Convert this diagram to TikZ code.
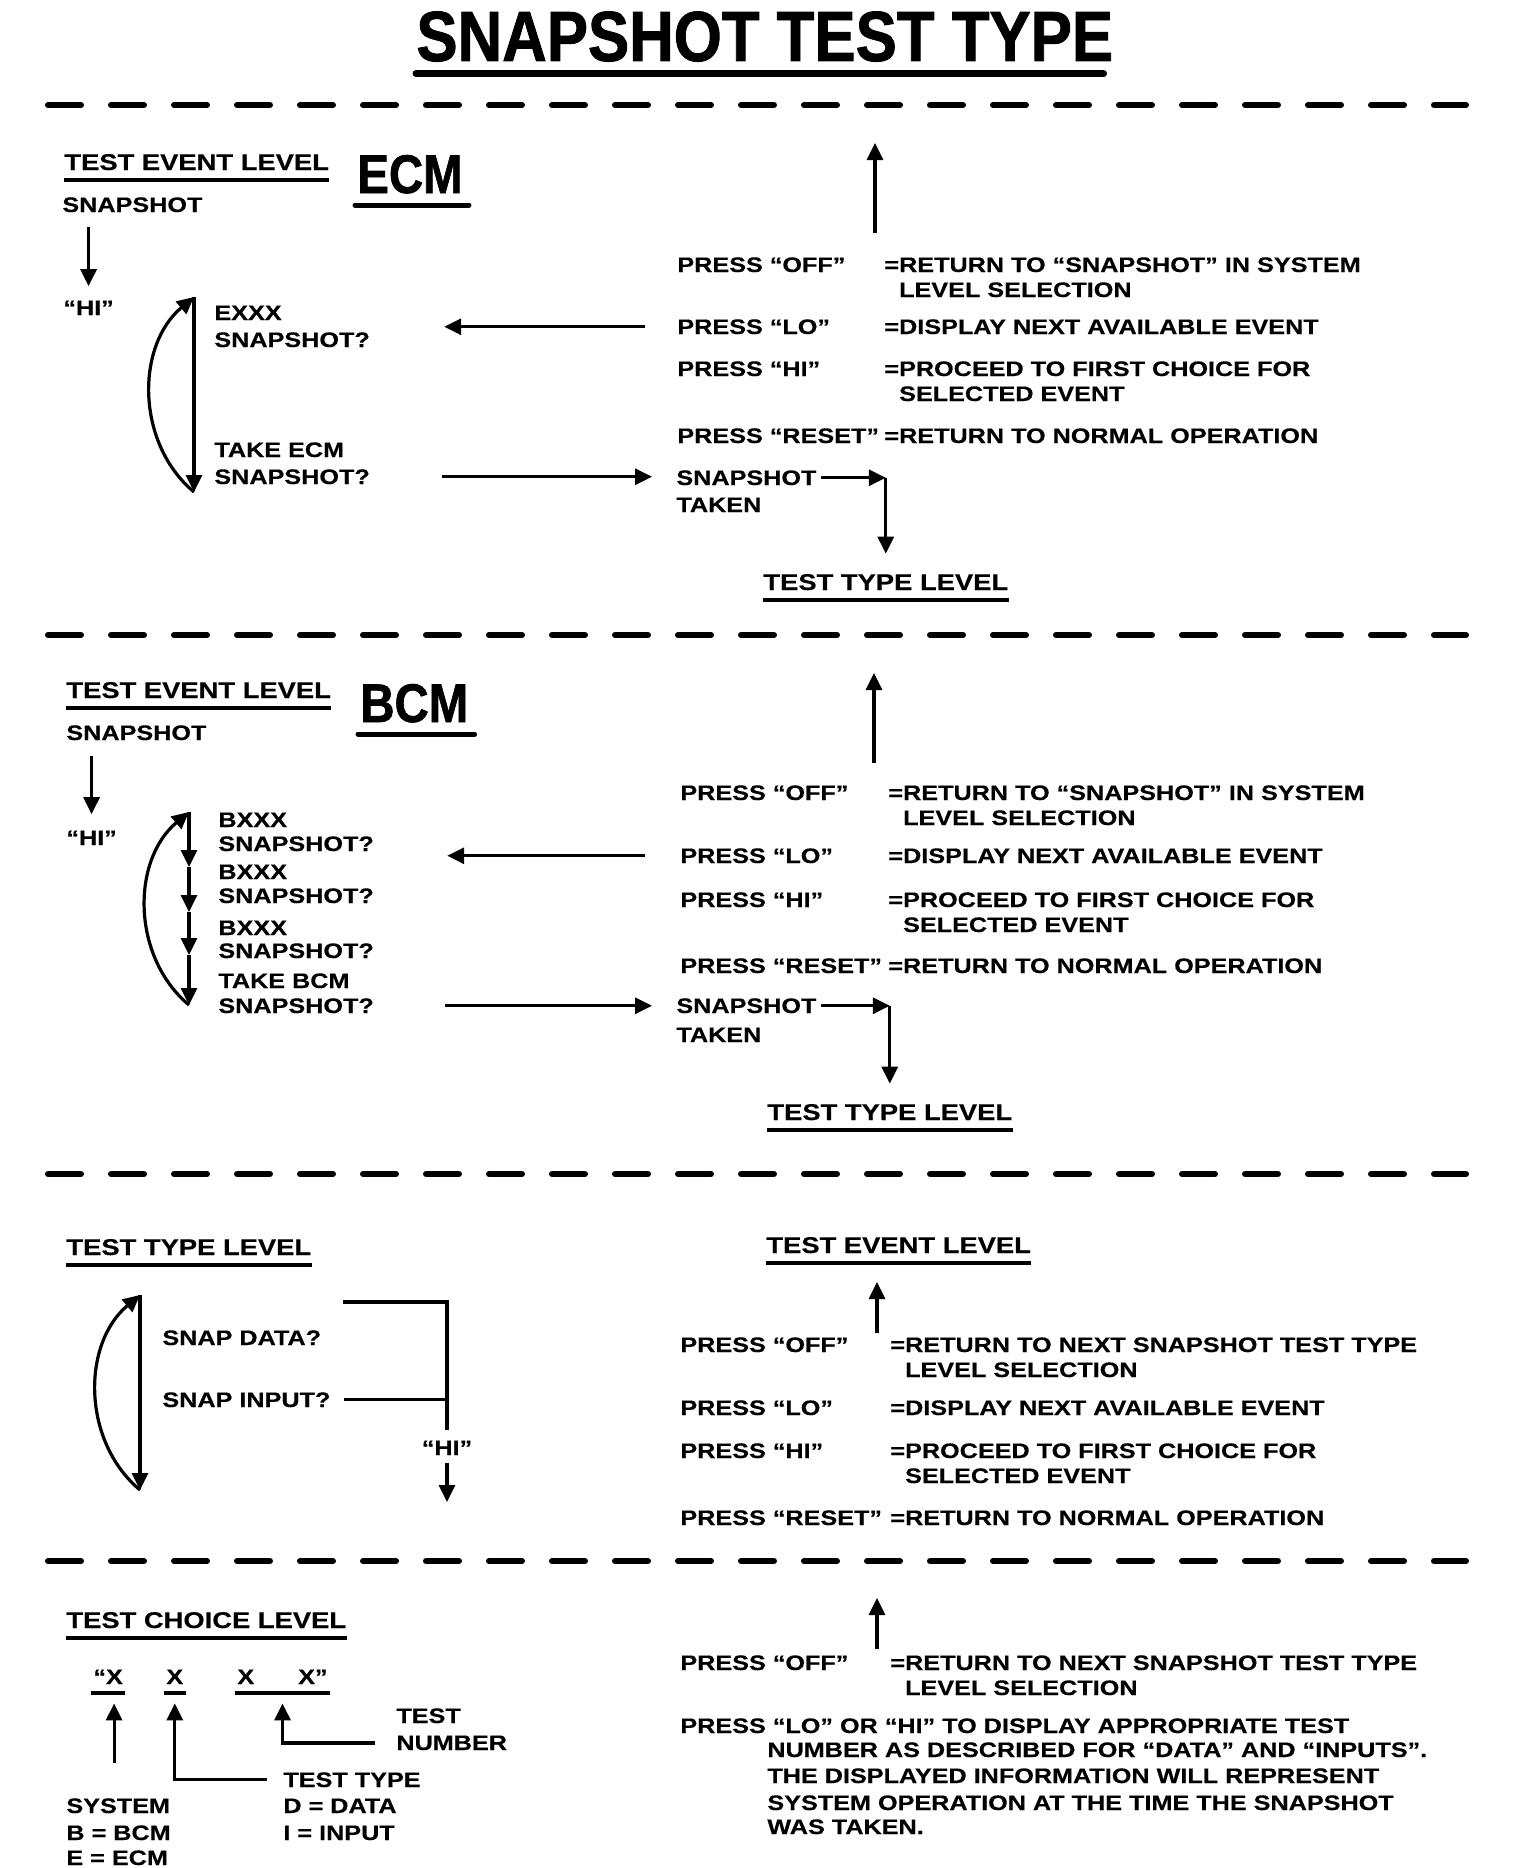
\documentclass[tikz,border=0pt]{standalone}
\usepackage{fontspec}
\newfontfamily\bodyfont{Liberation Sans Bold}[FakeStretch=1.2, FakeBold=0.4]
\newfontfamily\titlefont{Liberation Sans Bold}[FakeStretch=0.87, FakeBold=1.2]
\usepackage{tikz}
\usetikzlibrary{arrows.meta}

\begin{document}
\begin{tikzpicture}[x=0.5pt, y=-0.5pt,
    txt/.style={inner sep=0pt, anchor=base west, align=left,
      font=\bodyfont\fontsize{10.5}{12.5}\selectfont},
    head/.style={txt, font=\bodyfont\fontsize{11.4}{13}\selectfont},
    big/.style={inner sep=0pt, anchor=base west},
    arr/.style={line width=1.6pt, -{Triangle[length=8.5pt, width=8pt]}},
    bar/.style={line width=1.6pt},
    uline/.style={line width=2pt},
    sep/.style={line width=3pt, line cap=round, dash pattern=on 16.5pt off 15pt}]
  \useasboundingbox (0,0) rectangle (1536,1868);
  \fill[white] (0,0) rectangle (1536,1868);

  % title and separators
  \node[big, font=\titlefont\fontsize{35.5}{40}\selectfont] (title) at (416,61) {SNAPSHOT TEST TYPE};
  \draw[line width=3.5pt, line cap=round] ([yshift=-6.3pt]title.base west) -- ([yshift=-6.3pt, xshift=-5pt]title.base east);
  \foreach \y in {105,635,1174,1561}
    \draw[sep] (48,\y) -- (1466,\y);

  % key/meaning columns, same for the three upper blocks
  % (a two-line node sits on its last line, hence the offset \d)
  \foreach \p/\kx/\vx/\ya/\yb/\yc/\yd/\ret in {ecm/677/884/272/334/376/443/{“SNAPSHOT” IN SYSTEM},
      bcm/680/888/800/863/907/973/{“SNAPSHOT” IN SYSTEM},
      tt/680/890/1352/1415/1458/1525/{NEXT SNAPSHOT TEST TYPE}}{
    \foreach \k/\v/\y/\d [count=\i] in {{PRESS “OFF”}/{=RETURN TO \ret\\\hphantom{=}LEVEL SELECTION}/\ya/25,
        {PRESS “LO”}/{=DISPLAY NEXT AVAILABLE EVENT}/\yb/0,
        {PRESS “HI”}/{=PROCEED TO FIRST CHOICE FOR\\\hphantom{=}SELECTED EVENT}/\yc/25,
        {PRESS “RESET”}/{=RETURN TO NORMAL OPERATION}/\yd/0}{
      \node[txt] (\p key\i) at (\kx,\y) {\k};
      \node[txt] (\p val\i) at (\vx,{\y+\d}) {\v};}}

  % ECM block
  \node[head] (ecmhead) at (64,170) {TEST EVENT LEVEL};
  \node[big, font=\titlefont\fontsize{27.2}{30}\selectfont] (ecm) at (357,193) {ECM};
  \node[txt] (ecmsnap) at (62,212) {SNAPSHOT};
  \node[txt] (ecmhi) at (63,315) {“HI”};
  \foreach \t/\y [count=\i] in {EXXX/320, SNAPSHOT?/347, TAKE ECM/457, SNAPSHOT?/484}
    \node[txt] (ecmq\i) at (214,\y) {\t};
  \node[txt] (ecmtaken1) at (676,485) {SNAPSHOT};
  \node[txt] (ecmtaken2) at (676,512) {TAKEN};
  \node[head] (ecmtype) at (763,590) {TEST TYPE LEVEL};
  \coordinate (ecmexit) at (875,143);
  \coordinate (ecmtop) at (194,297);
  \coordinate (ecmbot) at (194,492);

  \draw[arr, shorten <=7pt, shorten >=7pt] (ecmsnap.south -| ecmhi) -- (ecmhi.north);
  \draw[arr] (ecmtop) -- (ecmbot);
  \draw[arr] (ecmbot) to[bend left=50] (ecmtop);
  \draw[arr, shorten <=12pt] (ecmexit |- ecmkey1.north) -- (ecmexit);
  \draw[arr, shorten <=16pt, shorten >=37pt] (ecmkey2.west) -- (ecmkey2.west -| ecmq2.east);
  \draw[arr, shorten <=36pt, shorten >=12pt] (ecmq4.east) -- (ecmq4.east -| ecmtaken1.west);
  \draw[arr, shorten <=2pt] (ecmtaken1.east) -- (ecmtaken1.east -| ecmtype.north);
  \draw[arr, shorten >=10pt] (ecmtaken1.east -| ecmtype.north) -- (ecmtype.north);

  % BCM block
  \node[head] (bcmhead) at (66,698) {TEST EVENT LEVEL};
  \node[big, font=\titlefont\fontsize{27.2}{30}\selectfont] (bcm) at (360,722) {BCM};
  \node[txt] (bcmsnap) at (66,740) {SNAPSHOT};
  \node[txt] (bcmhi) at (66,845) {“HI”};
  \foreach \t/\y [count=\i] in {BXXX/827, SNAPSHOT?/851, BXXX/879, SNAPSHOT?/903,
      BXXX/935, SNAPSHOT?/958, TAKE BCM/988, SNAPSHOT?/1013}
    \node[txt] (bcmq\i) at (218,\y) {\t};
  \node[txt] (bcmtaken1) at (676,1013) {SNAPSHOT};
  \node[txt] (bcmtaken2) at (676,1042) {TAKEN};
  \node[head] (bcmtype) at (767,1120) {TEST TYPE LEVEL};
  \coordinate (bcmexit) at (874,673);
  \foreach \y [count=\i from 0] in {812,867,912,955,1005}
    \coordinate (bcmstep\i) at (189,\y);

  \draw[arr, shorten <=7.5pt, shorten >=8pt] (bcmsnap.south -| bcmhi) -- (bcmhi.north);
  \foreach \i [evaluate=\i as \j using int(\i+1)] in {0,...,3}
    \draw[arr] (bcmstep\i) -- (bcmstep\j);
  \draw[arr] (bcmstep4) to[bend left=50] (bcmstep0);
  \draw[arr, shorten <=11pt] (bcmexit |- bcmkey1.north) -- (bcmexit);
  \draw[arr, shorten <=17.5pt, shorten >=36.5pt] (bcmkey2.west) -- (bcmkey2.west -| bcmq2.east);
  \draw[arr, shorten <=35.5pt, shorten >=12pt] (bcmq8.east) -- (bcmq8.east -| bcmtaken1.west);
  \draw[arr, shorten <=2pt] (bcmtaken1.east) -- (bcmtaken1.east -| bcmtype.north);
  \draw[arr, shorten >=10pt] (bcmtaken1.east -| bcmtype.north) -- (bcmtype.north);

  % test type level
  \node[head] (tthead) at (66,1255) {TEST TYPE LEVEL};
  \node[head] (ttevent) at (766,1253) {TEST EVENT LEVEL};
  \node[txt] (sndata) at (162,1345) {SNAP DATA?};
  \node[txt] (sninput) at (162,1407) {SNAP INPUT?};
  \node[txt, anchor=base] (tthi) at (447,1455) {“HI”};
  \coordinate (ttexit) at (877,1282);
  \coordinate (tttop) at (140,1295);
  \coordinate (ttbot) at (140,1490);
  \coordinate (brtop) at (343,1302);
  \coordinate (ttout) at (447,1502);

  \draw[arr] (tttop) -- (ttbot);
  \draw[arr] (ttbot) to[bend left=50] (tttop);
  \draw[bar] (brtop) -| ([yshift=5pt]tthi.north);
  \draw[bar, shorten <=6.5pt] (sninput.east) -- (sninput.east -| tthi.north);
  \draw[arr, shorten <=4pt] (tthi.south) -- (ttout);
  \draw[arr, shorten <=2pt] (ttexit |- ttkey1.north) -- (ttexit);

  % test choice level
  \node[head] (tchead) at (66,1628) {TEST CHOICE LEVEL};
  \node[txt] (sysx) at (93,1684) {“X};
  \node[txt] (typx) at (166,1684) {X};
  \node[txt] (numx) at (237,1684) {X\hspace{22pt}X”};
  \node[txt] (numleg1) at (396,1723) {TEST};
  \node[txt] (numleg2) at (396,1750) {NUMBER};
  \foreach \t/\y [count=\i] in {TEST TYPE/1787, D = DATA/1813, I = INPUT/1840}
    \node[txt] (typleg\i) at (283,\y) {\t};
  \foreach \t/\y [count=\i] in {SYSTEM/1813, B = BCM/1840, E = ECM/1865}
    \node[txt] (sysleg\i) at (66,\y) {\t};

  \draw[arr, shorten <=17.5pt, shorten >=9.5pt] ([xshift=3pt]sysx.south |- sysleg1.north) -- ([xshift=3pt]sysx.south);
  \draw[arr, shorten <=8pt, shorten >=9.5pt] (typleg1.west) -| (typx.south);
  \draw[arr, shorten <=10.5pt, shorten >=9.5pt] (numleg2.west) -| (numx.south);

  \coordinate (tcexit) at (877,1598);
  \node[txt] (tckey) at (680,1670) {PRESS “OFF”};
  \node[txt] (tcval) at (890,1695) {=RETURN TO NEXT SNAPSHOT TEST TYPE\\\hphantom{=}LEVEL SELECTION};
  \node[txt] (tclohi) at (680,1733) {PRESS “LO” OR “HI” TO DISPLAY APPROPRIATE TEST};
  \foreach \t/\y [count=\i] in {NUMBER AS DESCRIBED FOR “DATA” AND “INPUTS”./1757,
      THE DISPLAYED INFORMATION WILL REPRESENT/1783,
      SYSTEM OPERATION AT THE TIME THE SNAPSHOT/1810, WAS TAKEN./1834}
    \node[txt] (tcline\i) at (767,\y) {\t};
  \draw[arr, shorten <=3pt] (tcexit |- tckey.north) -- (tcexit);

  % underlines
  \foreach \n in {ecmhead,bcmhead,ecmtype,bcmtype,tthead,ttevent,tchead}
    \draw[uline] ([yshift=-5pt]\n.base west) -- ([yshift=-5pt]\n.base east);
  \foreach \n in {ecm,bcm}
    \draw[line width=2.5pt, line cap=round] ([yshift=-6pt,xshift=-1pt]\n.base west) -- ([yshift=-6pt,xshift=3pt]\n.base east);
  \foreach \n in {sysx,typx,numx}
    \draw[uline] ([yshift=-4.5pt,xshift=-1pt]\n.base west) -- ([yshift=-4.5pt,xshift=1pt]\n.base east);
\end{tikzpicture}
\end{document}
